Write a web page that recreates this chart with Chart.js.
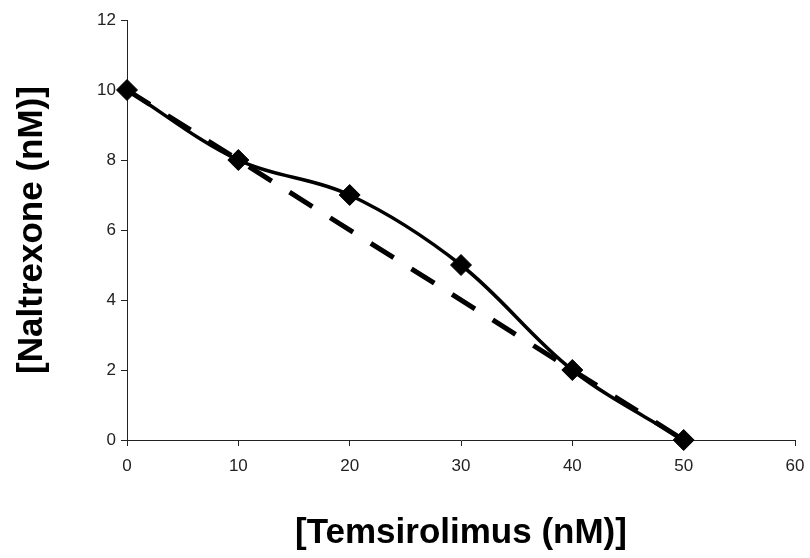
<!DOCTYPE html>
<html lang="en">
    <head>
        <meta charset="utf-8">
        <title>Naltrexone / Temsirolimus isobologram</title>
        <style>
            html, body { margin: 0; padding: 0; background: #fff; }
            #isobologram { display: block; }
        </style>
    </head>
    <body>
        <canvas id="isobologram" width="810" height="558"></canvas>

        <script src="https://cdn.jsdelivr.net/npm/chart.js"></script>
        <script>

            // measured combination doses (nM)
            const temsirolimus = [0, 10, 20, 30, 40, 50];
            const naltrexone = [10, 8, 7, 5, 2, 0];

            // line of additivity between the two single-drug doses
            const additiveTemsirolimus = [0, 50];
            const additiveNaltrexone = [10, 0];

            const xTicks = [0, 10, 20, 30, 40, 50, 60];
            const yTicks = [0, 2, 4, 6, 8, 10, 12];

            const fontFamily = 'Arial, "Liberation Sans", Helvetica, sans-serif';

            function toPoints(xs, ys) {
                var pts = [];
                for (var i = 0; i < xs.length; i++) {
                    pts.push({ x: xs[i], y: ys[i] });
                }
                return pts;
            }

            function axis(ticks, titleText) {
                return {
                    type: 'linear',
                    min: ticks[0],
                    max: ticks[ticks.length - 1],
                    afterBuildTicks: function (scale) {
                        scale.ticks = ticks.map(function (v) { return { value: v }; });
                    },
                    grid: {
                        drawOnChartArea: false,
                        drawTicks: true,
                        tickLength: 6,
                        color: '#222',
                        lineWidth: 1
                    },
                    border: { display: true, color: '#222', width: 1 },
                    ticks: {
                        color: '#222',
                        font: { family: fontFamily, size: 17 },
                        padding: 6
                    },
                    title: {
                        display: true,
                        text: titleText,
                        color: '#000',
                        font: { family: fontFamily, size: 35, weight: 'bold' },
                        padding: 0
                    }
                };
            }

            const xAxis = axis(xTicks, '[Temsirolimus (nM)]');
            xAxis.ticks.padding = 10;
            xAxis.afterFit = function (scale) {
                scale.height = 114;
                scale.paddingRight = 15; // room for the "60" label
            };

            const yAxis = axis(yTicks, '[Naltrexone (nM)]');
            yAxis.ticks.padding = 5;
            yAxis.afterFit = function (scale) { scale.width = 116; };

            new Chart(document.getElementById('isobologram'), {
                type: 'scatter',
                data: {
                    datasets: [
                        {
                            label: 'Combination',
                            data: toPoints(temsirolimus, naltrexone),
                            showLine: true,
                            clip: false,
                            tension: 0.35,
                            borderColor: '#000',
                            borderWidth: 3.5,
                            pointStyle: 'rectRot',
                            pointRadius: 10.5,
                            pointBackgroundColor: '#000',
                            pointBorderColor: '#000',
                            pointBorderWidth: 1
                        },
                        {
                            label: 'Additive',
                            data: toPoints(additiveTemsirolimus, additiveNaltrexone),
                            showLine: true,
                            clip: false,
                            borderColor: '#000',
                            borderWidth: 5,
                            borderDash: [27, 21],
                            pointRadius: 0
                        }
                    ]
                },
                options: {
                    responsive: false,
                    animation: false,
                    layout: {
                        padding: { left: 11, right: 0, top: 20, bottom: 4 }
                    },
                    plugins: {
                        legend: { display: false },
                        tooltip: { enabled: false }
                    },
                    scales: {
                        x: xAxis,
                        y: yAxis
                    }
                }
            });

        </script>
    </body>
</html>
